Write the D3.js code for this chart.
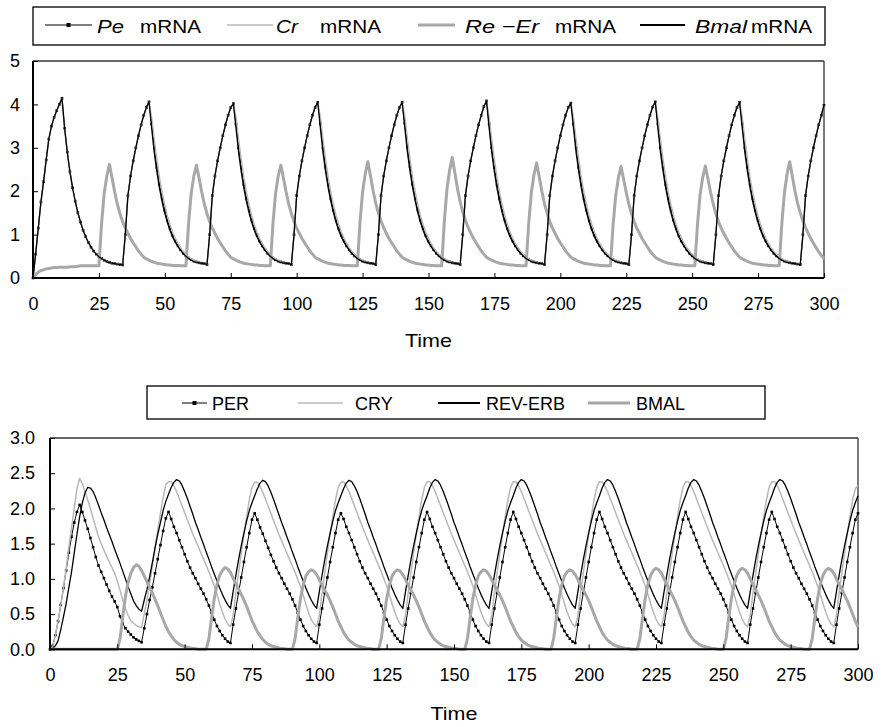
<!DOCTYPE html>
<html>
<head>
<meta charset="utf-8">
<script src="https://cdn.jsdelivr.net/npm/d3@7"></script>
<style>
  body { margin: 0; background: #fff; }
  svg { display: block; }
  text { font-family: "Liberation Sans", Arial, sans-serif; fill: #000; }
</style>
</head>
<body>
<svg id="chart" width="886" height="727"></svg>
<script>
// ---- time axis (one sample per time unit) ----
const time = d3.range(0, 301);

// ---- upper panel: mRNA levels ----
const peMRNA = [
  0.0,0.55,1.15,1.75,2.22,2.72,3.2,3.5,3.7,3.86,4.0,4.14,
  3.45,2.9,2.45,2.08,1.77,1.51,1.29,1.1,0.95,0.82,0.71,0.62,0.55,0.49,0.45,0.41,0.38,0.36,0.34,0.33,0.32,0.31,
  0.3,1.0,1.9,2.35,2.7,3.0,3.28,3.53,3.75,3.93,4.06,
  3.55,3.0,2.55,2.15,1.83,1.56,1.33,1.14,0.98,0.85,0.74,0.65,0.57,0.51,0.46,0.42,0.39,0.37,0.35,0.34,0.33,0.31,1.0,1.9,2.35,2.7,3.0,3.28,3.53,3.75,3.93,4.02,
  3.55,3.0,2.55,2.15,1.83,1.56,1.33,1.14,0.98,0.85,0.74,0.65,0.57,0.51,0.46,0.42,0.39,0.37,0.35,0.34,0.33,0.31,1.0,1.9,2.35,2.7,3.0,3.28,3.53,3.75,3.93,4.05,
  3.55,3.0,2.55,2.15,1.83,1.56,1.33,1.14,0.98,0.85,0.74,0.65,0.57,0.51,0.46,0.42,0.39,0.37,0.35,0.34,0.33,0.31,1.0,1.9,2.35,2.7,3.0,3.28,3.53,3.75,3.93,4.05,
  3.57,3.02,2.56,2.16,1.84,1.56,1.33,1.14,0.98,0.85,0.74,0.65,0.57,0.51,0.46,0.42,0.39,0.37,0.35,0.34,0.33,0.31,1.0,1.9,2.35,2.7,3.0,3.28,3.53,3.75,3.95,4.08,
  3.55,3.0,2.55,2.15,1.83,1.56,1.33,1.14,0.98,0.85,0.74,0.65,0.57,0.51,0.46,0.42,0.39,0.37,0.35,0.34,0.33,0.31,1.0,1.9,2.35,2.7,3.0,3.28,3.53,3.75,3.93,4.03,
  3.55,3.0,2.55,2.15,1.83,1.56,1.33,1.14,0.98,0.85,0.74,0.65,0.57,0.51,0.46,0.42,0.39,0.37,0.35,0.34,0.33,0.31,1.0,1.9,2.35,2.7,3.0,3.28,3.53,3.75,3.94,4.06,
  3.55,3.0,2.55,2.15,1.83,1.56,1.33,1.14,0.98,0.85,0.74,0.65,0.57,0.51,0.46,0.42,0.39,0.37,0.35,0.34,0.33,0.31,1.0,1.9,2.35,2.7,3.0,3.28,3.53,3.75,3.93,4.05,
  3.55,3.0,2.55,2.15,1.83,1.56,1.33,1.14,0.98,0.85,0.74,0.65,0.57,0.51,0.46,0.42,0.39,0.37,0.35,0.34,0.33,0.32,0.31,1.0,1.9,2.35,2.7,3.0,3.28,3.53,3.75,3.98
];
const crMRNA = [
  0.0,0.55,1.15,1.75,2.22,2.72,3.2,3.5,3.7,3.86,4.0,4.14,
  3.45,2.9,2.45,2.08,1.77,1.51,1.29,1.1,0.95,0.82,0.71,0.62,0.55,0.49,0.45,0.41,0.38,0.36,0.34,0.33,0.32,0.31,
  0.3,1.0,1.9,2.35,2.7,3.0,3.28,3.53,3.75,3.93,4.06,
  3.7,3.18,2.72,2.3,1.96,1.67,1.42,1.22,1.05,0.91,0.79,0.69,0.61,0.54,0.48,0.44,0.4,0.37,0.35,0.34,0.33,0.31,1.0,1.9,2.35,2.7,3.0,3.28,3.53,3.75,3.93,4.02,
  3.7,3.18,2.72,2.3,1.96,1.67,1.42,1.22,1.05,0.91,0.79,0.69,0.61,0.54,0.48,0.44,0.4,0.37,0.35,0.34,0.33,0.31,1.0,1.9,2.35,2.7,3.0,3.28,3.53,3.75,3.93,4.05,
  3.7,3.18,2.72,2.3,1.96,1.67,1.42,1.22,1.05,0.91,0.79,0.69,0.61,0.54,0.48,0.44,0.4,0.37,0.35,0.34,0.33,0.31,1.0,1.9,2.35,2.7,3.0,3.28,3.53,3.75,3.93,4.05,
  3.72,3.2,2.73,2.31,1.97,1.67,1.42,1.22,1.05,0.91,0.79,0.69,0.61,0.54,0.48,0.44,0.4,0.37,0.35,0.34,0.33,0.31,1.0,1.9,2.35,2.7,3.0,3.28,3.53,3.75,3.95,4.08,
  3.7,3.18,2.72,2.3,1.96,1.67,1.42,1.22,1.05,0.91,0.79,0.69,0.61,0.54,0.48,0.44,0.4,0.37,0.35,0.34,0.33,0.31,1.0,1.9,2.35,2.7,3.0,3.28,3.53,3.75,3.93,4.03,
  3.7,3.18,2.72,2.3,1.96,1.67,1.42,1.22,1.05,0.91,0.79,0.69,0.61,0.54,0.48,0.44,0.4,0.37,0.35,0.34,0.33,0.31,1.0,1.9,2.35,2.7,3.0,3.28,3.53,3.75,3.94,4.06,
  3.7,3.18,2.72,2.3,1.96,1.67,1.42,1.22,1.05,0.91,0.79,0.69,0.61,0.54,0.48,0.44,0.4,0.37,0.35,0.34,0.33,0.31,1.0,1.9,2.35,2.7,3.0,3.28,3.53,3.75,3.93,4.05,
  3.7,3.18,2.72,2.3,1.96,1.67,1.42,1.22,1.05,0.91,0.79,0.69,0.61,0.54,0.48,0.44,0.4,0.37,0.35,0.34,0.33,0.32,0.31,1.0,1.9,2.35,2.7,3.0,3.28,3.53,3.75,3.98
];
const reErMRNA = [
  0.0,0.08,0.13,0.17,0.19,0.21,0.22,0.23,0.24,0.24,0.25,0.25,0.25,0.25,0.26,0.26,0.26,0.27,0.28,0.28,0.28,0.28,0.28,0.28,0.28,0.28,
  1.25,1.95,2.35,2.62,
  2.3,1.98,1.7,1.48,1.3,1.15,1.03,0.91,0.81,0.72,0.62,0.55,0.48,0.44,0.41,0.38,0.36,0.34,0.33,0.32,0.31,0.3,0.3,0.29,0.29,0.29,0.28,0.28,0.28,1.25,1.95,2.35,2.6,
  2.3,1.98,1.7,1.48,1.3,1.15,1.03,0.91,0.81,0.72,0.62,0.55,0.48,0.44,0.41,0.38,0.36,0.34,0.33,0.32,0.31,0.3,0.3,0.29,0.29,0.28,0.28,0.28,1.25,1.95,2.35,2.6,
  2.3,1.98,1.7,1.48,1.3,1.15,1.03,0.91,0.81,0.72,0.62,0.55,0.48,0.44,0.41,0.38,0.36,0.34,0.33,0.32,0.31,0.3,0.3,0.29,0.29,0.29,0.28,0.28,0.28,1.27,1.98,2.4,2.68,
  2.35,2.01,1.72,1.49,1.31,1.16,1.03,0.91,0.81,0.72,0.62,0.55,0.48,0.44,0.41,0.38,0.36,0.34,0.33,0.32,0.31,0.3,0.3,0.29,0.29,0.28,0.28,0.28,1.3,2.05,2.48,2.78,
  2.42,2.06,1.76,1.52,1.33,1.17,1.04,0.92,0.82,0.72,0.62,0.55,0.48,0.44,0.41,0.38,0.36,0.34,0.33,0.32,0.31,0.3,0.3,0.29,0.29,0.28,0.28,0.28,1.25,1.97,2.38,2.65,
  2.33,2.0,1.71,1.49,1.3,1.15,1.03,0.91,0.81,0.72,0.62,0.55,0.48,0.44,0.41,0.38,0.36,0.34,0.33,0.32,0.31,0.3,0.3,0.29,0.29,0.28,0.28,0.28,1.22,1.9,2.3,2.57,
  2.28,1.97,1.7,1.48,1.3,1.15,1.03,0.91,0.81,0.72,0.62,0.55,0.48,0.44,0.41,0.38,0.36,0.34,0.33,0.32,0.31,0.3,0.3,0.29,0.29,0.28,0.28,0.28,1.22,1.92,2.32,2.58,
  2.28,1.97,1.7,1.48,1.3,1.15,1.03,0.91,0.81,0.72,0.62,0.55,0.48,0.44,0.41,0.38,0.36,0.34,0.33,0.32,0.31,0.3,0.3,0.29,0.29,0.28,0.28,0.28,1.25,1.97,2.4,2.68,
  2.34,2.0,1.72,1.5,1.31,1.16,1.03,0.91,0.8,0.7,0.6,0.52,0.45
];
const bmalMRNA = [
  0.0,0.55,1.15,1.75,2.22,2.72,3.2,3.5,3.7,3.86,4.0,4.14,
  3.45,2.9,2.45,2.08,1.77,1.51,1.29,1.1,0.95,0.82,0.71,0.62,0.55,0.49,0.45,0.41,0.38,0.36,0.34,0.33,0.32,0.31,
  0.3,1.0,1.9,2.35,2.7,3.0,3.28,3.53,3.75,3.93,4.06,
  3.45,2.88,2.44,2.06,1.75,1.49,1.27,1.09,0.94,0.82,0.72,0.63,0.56,0.5,0.45,0.41,0.38,0.36,0.35,0.34,0.33,0.31,1.0,1.9,2.35,2.7,3.0,3.28,3.53,3.75,3.93,4.02,
  3.45,2.88,2.44,2.06,1.75,1.49,1.27,1.09,0.94,0.82,0.72,0.63,0.56,0.5,0.45,0.41,0.38,0.36,0.35,0.34,0.33,0.31,1.0,1.9,2.35,2.7,3.0,3.28,3.53,3.75,3.93,4.05,
  3.45,2.88,2.44,2.06,1.75,1.49,1.27,1.09,0.94,0.82,0.72,0.63,0.56,0.5,0.45,0.41,0.38,0.36,0.35,0.34,0.33,0.31,1.0,1.9,2.35,2.7,3.0,3.28,3.53,3.75,3.93,4.05,
  3.47,2.9,2.45,2.07,1.76,1.49,1.27,1.09,0.94,0.82,0.72,0.63,0.56,0.5,0.45,0.41,0.38,0.36,0.35,0.34,0.33,0.31,1.0,1.9,2.35,2.7,3.0,3.28,3.53,3.75,3.95,4.08,
  3.45,2.88,2.44,2.06,1.75,1.49,1.27,1.09,0.94,0.82,0.72,0.63,0.56,0.5,0.45,0.41,0.38,0.36,0.35,0.34,0.33,0.31,1.0,1.9,2.35,2.7,3.0,3.28,3.53,3.75,3.93,4.03,
  3.45,2.88,2.44,2.06,1.75,1.49,1.27,1.09,0.94,0.82,0.72,0.63,0.56,0.5,0.45,0.41,0.38,0.36,0.35,0.34,0.33,0.31,1.0,1.9,2.35,2.7,3.0,3.28,3.53,3.75,3.94,4.06,
  3.45,2.88,2.44,2.06,1.75,1.49,1.27,1.09,0.94,0.82,0.72,0.63,0.56,0.5,0.45,0.41,0.38,0.36,0.35,0.34,0.33,0.31,1.0,1.9,2.35,2.7,3.0,3.28,3.53,3.75,3.93,4.05,
  3.45,2.88,2.44,2.06,1.75,1.49,1.27,1.09,0.94,0.82,0.72,0.63,0.56,0.5,0.45,0.41,0.38,0.36,0.35,0.34,0.33,0.32,0.31,1.0,1.9,2.35,2.7,3.0,3.28,3.53,3.75,3.98
];

// ---- lower panel: protein levels ----
const perProtein = [
  0.0,0.05,0.2,0.4,0.63,0.87,1.12,1.37,1.6,1.8,1.95,2.05,
  1.95,1.83,1.71,1.58,1.45,1.31,1.19,1.1,1.01,0.92,0.83,0.75,0.68,0.6,0.47,0.37,0.3,0.25,0.21,0.17,0.14,0.12,0.1,
  0.3,0.5,0.7,0.88,1.08,1.28,1.48,1.68,1.86,1.95,
  1.85,1.74,1.65,1.55,1.45,1.35,1.25,1.16,1.08,1.01,0.93,0.86,0.79,0.71,0.62,0.52,0.42,0.33,0.26,0.2,0.15,0.11,0.09,0.35,0.58,0.8,1.02,1.24,1.45,1.65,1.84,1.93,
  1.84,1.73,1.64,1.54,1.44,1.34,1.25,1.16,1.08,1.01,0.93,0.86,0.79,0.71,0.62,0.52,0.42,0.33,0.26,0.2,0.15,0.11,0.09,0.35,0.58,0.8,1.02,1.24,1.45,1.65,1.84,1.93,
  1.85,1.74,1.65,1.55,1.45,1.35,1.25,1.16,1.08,1.01,0.93,0.86,0.79,0.71,0.62,0.52,0.42,0.33,0.26,0.2,0.15,0.11,0.09,0.35,0.58,0.8,1.02,1.24,1.45,1.65,1.84,1.95,
  1.85,1.74,1.65,1.55,1.45,1.35,1.25,1.16,1.08,1.01,0.93,0.86,0.79,0.71,0.62,0.52,0.42,0.33,0.26,0.2,0.15,0.11,0.09,0.35,0.58,0.8,1.02,1.24,1.45,1.65,1.84,1.95,
  1.85,1.74,1.65,1.55,1.45,1.35,1.25,1.16,1.08,1.01,0.93,0.86,0.79,0.71,0.62,0.52,0.42,0.33,0.26,0.2,0.15,0.11,0.09,0.35,0.58,0.8,1.02,1.24,1.45,1.65,1.84,1.95,
  1.85,1.74,1.65,1.55,1.45,1.35,1.25,1.16,1.08,1.01,0.93,0.86,0.79,0.71,0.62,0.52,0.42,0.33,0.26,0.2,0.15,0.11,0.09,0.35,0.58,0.8,1.02,1.24,1.45,1.65,1.84,1.95,
  1.85,1.74,1.65,1.55,1.45,1.35,1.25,1.16,1.08,1.01,0.93,0.86,0.79,0.71,0.62,0.52,0.42,0.33,0.26,0.2,0.15,0.11,0.09,0.35,0.58,0.8,1.02,1.24,1.45,1.65,1.84,1.95,
  1.85,1.74,1.65,1.55,1.45,1.35,1.25,1.16,1.08,1.01,0.93,0.86,0.79,0.71,0.62,0.52,0.42,0.33,0.26,0.2,0.15,0.11,0.09,0.35,0.58,0.8,1.02,1.24,1.45,1.65,1.84,1.93
];
const cryProtein = [
  0.0,0.03,0.2,0.4,0.62,0.88,1.15,1.45,1.72,2.0,2.28,2.43,
  2.35,2.24,2.12,2.0,1.86,1.73,1.6,1.5,1.41,1.32,1.24,1.16,1.08,0.97,0.84,0.7,0.58,0.48,0.41,0.37,0.34,0.32,0.31,
  0.5,0.7,0.94,1.18,1.43,1.68,1.93,2.15,2.34,2.38,
  2.38,2.32,2.24,2.14,2.04,1.94,1.84,1.74,1.64,1.55,1.46,1.37,1.28,1.19,1.1,1.0,0.9,0.78,0.65,0.53,0.43,0.36,0.32,0.48,0.8,1.08,1.36,1.63,1.88,2.12,2.3,2.37,
  2.37,2.31,2.23,2.13,2.03,1.93,1.83,1.73,1.63,1.54,1.45,1.36,1.27,1.18,1.09,0.99,0.89,0.77,0.64,0.52,0.42,0.36,0.32,0.48,0.8,1.08,1.36,1.63,1.88,2.12,2.3,2.37,
  2.38,2.32,2.24,2.14,2.04,1.94,1.84,1.74,1.64,1.55,1.46,1.37,1.28,1.19,1.1,1.0,0.9,0.78,0.65,0.53,0.43,0.36,0.32,0.48,0.8,1.08,1.36,1.63,1.88,2.12,2.3,2.38,
  2.38,2.32,2.24,2.14,2.04,1.94,1.84,1.74,1.64,1.55,1.46,1.37,1.28,1.19,1.1,1.0,0.9,0.78,0.65,0.53,0.43,0.36,0.32,0.48,0.8,1.08,1.36,1.63,1.88,2.12,2.3,2.38,
  2.38,2.32,2.24,2.14,2.04,1.94,1.84,1.74,1.64,1.55,1.46,1.37,1.28,1.19,1.1,1.0,0.9,0.78,0.65,0.53,0.43,0.36,0.32,0.48,0.8,1.08,1.36,1.63,1.88,2.12,2.3,2.38,
  2.38,2.32,2.24,2.14,2.04,1.94,1.84,1.74,1.64,1.55,1.46,1.37,1.28,1.19,1.1,1.0,0.9,0.78,0.65,0.53,0.43,0.36,0.32,0.48,0.8,1.08,1.36,1.63,1.88,2.12,2.3,2.38,
  2.38,2.32,2.24,2.14,2.04,1.94,1.84,1.74,1.64,1.55,1.46,1.37,1.28,1.19,1.1,1.0,0.9,0.78,0.65,0.53,0.43,0.36,0.32,0.48,0.8,1.08,1.36,1.63,1.88,2.12,2.3,2.38,
  2.38,2.32,2.24,2.14,2.04,1.94,1.84,1.74,1.64,1.55,1.46,1.37,1.28,1.19,1.1,1.0,0.9,0.78,0.65,0.53,0.43,0.36,0.32,0.48,0.8,1.08,1.36,1.63,1.88,2.12,2.28,2.33
];
const revErbProtein = [
  0.0,0.01,0.05,0.12,0.28,0.46,0.65,0.88,1.1,1.37,1.63,1.88,2.08,2.22,2.3,2.29,2.24,2.15,2.05,1.94,1.84,1.73,1.63,1.53,1.42,1.32,1.22,1.11,1.0,0.89,0.79,0.69,0.62,0.57,0.54,
  0.7,0.85,1.03,1.23,1.44,1.63,1.8,1.97,2.1,2.2,
  2.3,2.37,2.41,2.39,2.33,2.24,2.14,2.03,1.92,1.8,1.7,1.59,1.49,1.38,1.28,1.17,1.07,0.97,0.87,0.78,0.7,0.63,0.58,0.82,1.05,1.27,1.47,1.65,1.82,1.97,2.08,2.18,
  2.28,2.36,2.4,2.38,2.32,2.23,2.13,2.02,1.91,1.8,1.7,1.59,1.49,1.38,1.28,1.17,1.07,0.97,0.87,0.78,0.7,0.63,0.58,0.82,1.05,1.27,1.47,1.65,1.82,1.97,2.08,2.18,
  2.28,2.36,2.4,2.38,2.32,2.24,2.14,2.03,1.92,1.8,1.7,1.59,1.49,1.38,1.28,1.17,1.07,0.97,0.87,0.78,0.7,0.63,0.58,0.82,1.05,1.27,1.47,1.65,1.82,1.97,2.08,2.18,
  2.29,2.37,2.41,2.39,2.33,2.24,2.14,2.03,1.92,1.8,1.7,1.59,1.49,1.38,1.28,1.17,1.07,0.97,0.87,0.78,0.7,0.63,0.58,0.82,1.05,1.27,1.47,1.65,1.82,1.97,2.08,2.18,
  2.29,2.37,2.41,2.39,2.33,2.24,2.14,2.03,1.92,1.8,1.7,1.59,1.49,1.38,1.28,1.17,1.07,0.97,0.87,0.78,0.7,0.63,0.58,0.82,1.05,1.27,1.47,1.65,1.82,1.97,2.08,2.18,
  2.29,2.37,2.41,2.39,2.33,2.24,2.14,2.03,1.92,1.8,1.7,1.59,1.49,1.38,1.28,1.17,1.07,0.97,0.87,0.78,0.7,0.63,0.58,0.82,1.05,1.27,1.47,1.65,1.82,1.97,2.08,2.18,
  2.29,2.37,2.41,2.39,2.33,2.24,2.14,2.03,1.92,1.8,1.7,1.59,1.49,1.38,1.28,1.17,1.07,0.97,0.87,0.78,0.7,0.63,0.58,0.82,1.05,1.27,1.47,1.65,1.82,1.97,2.08,2.18,
  2.29,2.37,2.41,2.39,2.33,2.24,2.14,2.03,1.92,1.8,1.7,1.59,1.49,1.38,1.28,1.17,1.07,0.97,0.87,0.78,0.7,0.63,0.58,0.82,1.05,1.27,1.47,1.65,1.82,1.97,2.08,2.18
];
const bmalProtein = [
  0,0,0,0,0,0,0,0,0,0,0,0,0,0,0,0,0,0,0,0,0,0,0,0,0,
  0.0,0.15,0.45,0.75,0.95,1.08,1.16,1.2,
  1.18,1.12,1.04,0.96,0.88,0.8,0.71,0.62,0.52,0.42,0.33,0.25,0.19,0.14,0.1,0.07,0.05,0.04,0.03,0.02,0.01,0.01,0,0,0,0,0.15,0.45,0.72,0.92,1.05,1.12,1.16,
  1.14,1.09,1.01,0.93,0.86,0.78,0.7,0.61,0.51,0.41,0.33,0.25,0.19,0.14,0.1,0.07,0.05,0.04,0.03,0.02,0.01,0.01,0,0,0,0.15,0.45,0.72,0.91,1.04,1.1,1.13,
  1.11,1.06,0.99,0.91,0.84,0.77,0.69,0.6,0.5,0.4,0.32,0.24,0.18,0.13,0.1,0.07,0.05,0.04,0.03,0.02,0.01,0.01,0,0,0,0.15,0.45,0.72,0.91,1.04,1.1,1.13,
  1.11,1.06,0.99,0.91,0.84,0.77,0.69,0.6,0.5,0.4,0.32,0.24,0.18,0.13,0.1,0.07,0.05,0.04,0.03,0.02,0.01,0.01,0,0,0,0.15,0.45,0.72,0.91,1.04,1.1,1.13,
  1.11,1.06,0.99,0.91,0.84,0.77,0.69,0.6,0.5,0.4,0.32,0.24,0.18,0.13,0.1,0.07,0.05,0.04,0.03,0.02,0.01,0.01,0,0,0,0.15,0.45,0.72,0.91,1.04,1.1,1.13,
  1.11,1.06,0.99,0.91,0.84,0.77,0.69,0.6,0.5,0.4,0.32,0.24,0.18,0.13,0.1,0.07,0.05,0.04,0.03,0.02,0.01,0.01,0,0,0,0.15,0.45,0.72,0.92,1.05,1.12,1.15,
  1.13,1.08,1.0,0.92,0.85,0.77,0.69,0.6,0.5,0.4,0.32,0.24,0.18,0.13,0.1,0.07,0.05,0.04,0.03,0.02,0.01,0.01,0,0,0,0.15,0.45,0.72,0.92,1.05,1.12,1.15,
  1.13,1.08,1.0,0.92,0.85,0.77,0.69,0.6,0.5,0.4,0.32,0.24,0.18,0.13,0.1,0.07,0.05,0.04,0.03,0.02,0.01,0.01,0,0,0,0.15,0.45,0.72,0.92,1.05,1.12,1.15,
  1.13,1.08,1.0,0.92,0.85,0.77,0.69,0.6,0.5,0.4,0.32
];

// ---- tick values ----
const xTicks = [0, 25, 50, 75, 100, 125, 150, 175, 200, 225, 250, 275, 300];
const topYTicks = [0, 1, 2, 3, 4, 5];
const bottomYTicks = [0, 0.5, 1.0, 1.5, 2.0, 2.5, 3.0];
const axisTitle = "Time";

// ---- series styles ----
const styleMarked = { color: "#000", width: 1, marker: true };
const styleThinGray = { color: "#b8b8b8", width: 1.5, marker: false };
const styleThickGray = { color: "#a8a8a8", width: 3, marker: false };
const styleBlack = { color: "#000", width: 1.3, marker: false };

const topSeries = [
  { values: peMRNA, style: styleMarked },
  { values: crMRNA, style: styleThinGray },
  { values: reErMRNA, style: styleThickGray },
  { values: bmalMRNA, style: styleBlack }
];
const bottomSeries = [
  { values: perProtein, style: styleMarked },
  { values: cryProtein, style: styleThinGray },
  { values: revErbProtein, style: styleBlack },
  { values: bmalProtein, style: styleThickGray }
];

const svg = d3.select("#chart");

function drawPanel(cfg) {
  const x = d3.scaleLinear().domain([0, 300]).range([cfg.left, cfg.right]);
  const y = d3.scaleLinear().domain([0, cfg.yMax]).range([cfg.bottom, cfg.top]);
  const g = svg.append("g");

  // plot frame: top and right edges
  g.append("line").attr("x1", cfg.left).attr("x2", cfg.right)
    .attr("y1", cfg.top).attr("y2", cfg.top).attr("stroke", "#333").attr("stroke-width", 1.3);
  g.append("line").attr("x1", cfg.right).attr("x2", cfg.right)
    .attr("y1", cfg.top).attr("y2", cfg.bottom).attr("stroke", "#333").attr("stroke-width", 1.3);

  const line = d3.line().x((d, i) => x(time[i])).y(d => y(d));

  cfg.series.forEach(s => {
    g.append("path").datum(s.values)
      .attr("fill", "none")
      .attr("stroke", s.style.color)
      .attr("stroke-width", s.style.width)
      .attr("stroke-linejoin", "round")
      .attr("d", line);
    if (s.style.marker) {
      g.append("g").selectAll("rect").data(s.values).join("rect")
        .attr("x", (d, i) => x(time[i]) - 1.3)
        .attr("y", d => y(d) - 1.3)
        .attr("width", 2.6).attr("height", 2.6)
        .attr("fill", "#000");
    }
  });

  // axes with inside ticks
  const yAxis = d3.axisLeft(y).tickValues(cfg.yTicks).tickFormat(cfg.yFormat)
    .tickSizeInner(-5).tickSizeOuter(0).tickPadding(cfg.yPad);
  const xAxis = d3.axisBottom(x).tickValues(xTicks).tickFormat(d3.format("d"))
    .tickSizeInner(-5).tickSizeOuter(0).tickPadding(19);

  const ya = g.append("g").attr("transform", `translate(${cfg.left},0)`).call(yAxis);
  const xa = g.append("g").attr("transform", `translate(0,${cfg.bottom})`).call(xAxis);
  [ya, xa].forEach(a => {
    a.select(".domain").attr("stroke", "#000").attr("stroke-width", 2);
    a.selectAll(".tick line").attr("stroke", "#000").attr("stroke-width", 1);
    a.selectAll(".tick text").attr("font-size", 18).attr("fill", "#000")
      .attr("font-family", "'Liberation Sans', Arial, sans-serif");
  });
  ya.select(".domain").attr("d", `M0,${cfg.bottom + 1}V${cfg.top}`);
  xa.select(".domain").attr("d", `M${cfg.left - 1},0H${cfg.right}`);

  g.append("text").attr("x", (cfg.left + cfg.right) / 2).attr("y", cfg.titleY)
    .attr("text-anchor", "middle").attr("font-size", 19)
    .attr("textLength", 47).attr("lengthAdjust", "spacingAndGlyphs").text(axisTitle);
}

drawPanel({
  left: 33, right: 824, top: 61, bottom: 278, yMax: 5,
  yTicks: topYTicks, yFormat: d3.format("d"), yPad: 13,
  series: topSeries, titleY: 347
});
drawPanel({
  left: 50, right: 858, top: 438, bottom: 649.3, yMax: 3,
  yTicks: bottomYTicks, yFormat: d3.format(".1f"), yPad: 15,
  series: bottomSeries, titleY: 720
});

// ---- legends ----
function legendSample(g, style, x1, x2, yy) {
  g.append("line").attr("x1", x1).attr("x2", x2).attr("y1", yy).attr("y2", yy)
    .attr("stroke", style.color).attr("stroke-width", style === styleBlack ? 2 : style.width);
  if (style.marker) {
    g.append("rect").attr("x", (x1 + x2) / 2 - 2).attr("y", yy - 2)
      .attr("width", 4).attr("height", 4).attr("fill", "#000");
  }
}

// upper legend: [text, italic, x, width]
const topLegend = [
  { style: styleMarked, x1: 45, x2: 92, parts: [["Pe", true, 97, 27], ["mRNA", false, 140, 61]] },
  { style: styleThinGray, x1: 227, x2: 273, parts: [["Cr", true, 276, 22], ["mRNA", false, 320, 61]] },
  { style: styleThickGray, x1: 418, x2: 455, parts: [["Re −Er", true, 465, 74], ["mRNA", false, 555, 61]] },
  { style: styleBlack, x1: 640, x2: 685, parts: [["Bmal", true, 695, 52], ["mRNA", false, 751, 61]] }
];
const lg1 = svg.append("g");
lg1.append("rect").attr("x", 33).attr("y", 7).attr("width", 792).attr("height", 38)
  .attr("fill", "#fff").attr("stroke", "#111").attr("stroke-width", 1.4);
topLegend.forEach(item => {
  legendSample(lg1, item.style, item.x1, item.x2, 25);
  item.parts.forEach(([t, it, px, w]) => {
    lg1.append("text").attr("x", px).attr("y", 33).attr("font-size", 19)
      .attr("font-style", it ? "italic" : "normal")
      .attr("textLength", w).attr("lengthAdjust", "spacingAndGlyphs").text(t);
  });
});

// lower legend
const bottomLegend = [
  { style: styleMarked, x1: 182, x2: 207, label: "PER", tx: 212 },
  { style: styleThinGray, x1: 298, x2: 343, label: "CRY", tx: 355 },
  { style: styleBlack, x1: 438, x2: 480, label: "REV-ERB", tx: 486 },
  { style: styleThickGray, x1: 588, x2: 630, label: "BMAL", tx: 636 }
];
const lg2 = svg.append("g");
lg2.append("rect").attr("x", 147).attr("y", 386).attr("width", 618).attr("height", 33)
  .attr("fill", "#fff").attr("stroke", "#111").attr("stroke-width", 1.4);
bottomLegend.forEach(item => {
  legendSample(lg2, item.style, item.x1, item.x2, 403);
  lg2.append("text").attr("x", item.tx).attr("y", 409.5).attr("font-size", 18).text(item.label);
});
</script>
</body>
</html>
